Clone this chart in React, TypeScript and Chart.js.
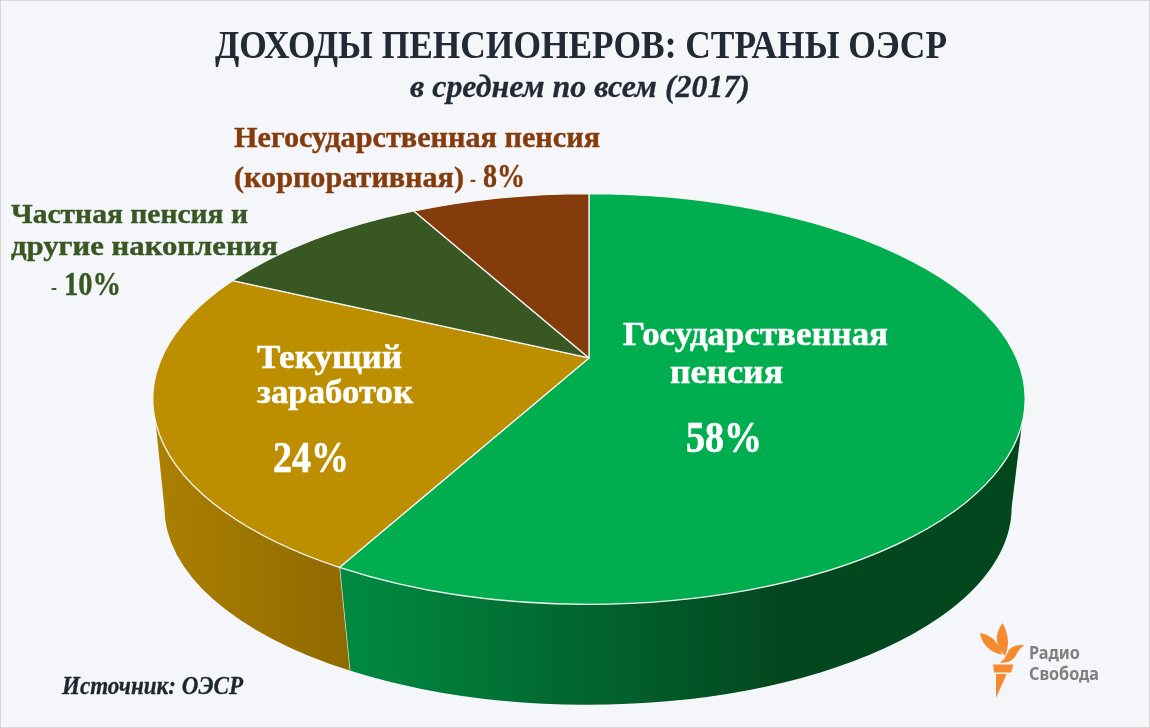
import React, { useEffect, useRef } from "react";
import { Chart, registerables } from "chart.js";

Chart.register(...registerables);

// ---- data ----
const categories = [
  "Государственная пенсия",
  "Текущий заработок",
  "Частная пенсия и другие накопления",
  "Негосударственная пенсия (корпоративная)",
];
const shares = [58, 24, 10, 8];
const sliceColors = ["#00AE50", "#BC8E00", "#385723", "#843C0C"];
const titleText = "ДОХОДЫ ПЕНСИОНЕРОВ: СТРАНЫ ОЭСР";
const subtitleText = "в среднем по всем (2017)";
const sourceText = "Источник: ОЭСР";
const logoLines = ["Радио", "Свобода"];

// ---- style ----
const W = 1150;
const H = 728;
const BG = "#F5F6F9";
const INK = "#222B35";
const SERIF = '"Liberation Serif", serif';
const ASPECT = 436.5 / 205.5; // horizontal stretch of the pie's ellipse
const TILT = 0.2; // perspective shift of the pie's apex
const WALL_DY = 108;
const WALL_RX = 424 / 436.5;
const WALL_RY = 198 / 205.5;
const WALL_PHI_SHIFT = 0.012;
const PHI_R = (7 * Math.PI) / 180;
const PHI_L = (173.6 * Math.PI) / 180;
const wallStops = [
  [[0, "#008A41"], [0.64, "#03471F"], [1, "#03471F"]],
  [[0, "#AC8000"], [1, "#8E6900"]],
];
const wallSpans = [
  [345, 1025],
  [155, 350],
];

function phiOf(angle: number) {
  const t = angle + Math.PI / 2;
  const u = Math.sin(t);
  const v = -Math.cos(t);
  const den = 1 - v * TILT;
  const s = Math.sqrt(1 - TILT * TILT);
  return Math.atan2((v - TILT) / den, (u * s) / den);
}

function text(
  ctx: CanvasRenderingContext2D,
  str: string,
  x: number,
  base: number,
  width: number,
  font: string,
  color: string,
  heavy = 0
) {
  ctx.save();
  ctx.font = font;
  ctx.fillStyle = color;
  ctx.textAlign = "left";
  ctx.textBaseline = "alphabetic";
  const m = ctx.measureText(str).width;
  ctx.translate(x, base);
  ctx.scale(width / m, 1);
  if (heavy > 0) {
    ctx.strokeStyle = color;
    ctx.lineWidth = heavy;
    ctx.lineJoin = "round";
    ctx.strokeText(str, 0, 0);
  }
  ctx.fillText(str, 0, 0);
  ctx.restore();
}

const pie3d = {
  id: "pie3d",
  beforeDraw(chart: any) {
    const ctx = chart.ctx;
    ctx.save();
    ctx.fillStyle = BG;
    ctx.fillRect(0, 0, W, H);
    ctx.strokeStyle = "#D6D7D9";
    ctx.lineWidth = 1;
    ctx.strokeRect(0.5, 0.5, W - 1, H - 1);
    ctx.restore();
  },
  beforeDatasetDraw(chart: any, args: any) {
    const ctx: CanvasRenderingContext2D = chart.ctx;
    const arcs = chart.getDatasetMeta(args.index).data;
    const first = arcs[0];
    const cx = first.x;
    const cy = first.y;
    const ry = first.outerRadius;
    const rx = ry * ASPECT;
    const spans = arcs.map((a: any) => {
      const p1 = phiOf(a.startAngle);
      let p2 = phiOf(a.endAngle);
      while (p2 <= p1) p2 += Math.PI * 2;
      return [p1, p2];
    });
    const apexY = cy - TILT * ry;

    // side walls
    arcs.forEach((arc: any, i: number) => {
      let [p1, p2] = spans[i];
      if (p1 < -Math.PI / 2 - 0.01) {
        p1 += Math.PI * 2;
        p2 += Math.PI * 2;
      }
      const a = Math.max(p1, PHI_R);
      const b = Math.min(p2, PHI_L);
      if (a >= b) return;
      const a2 = a === PHI_R ? 0 : a - WALL_PHI_SHIFT;
      const b2 = b === PHI_L ? Math.PI : b - WALL_PHI_SHIFT;
      const bx = cx - 1;
      const by = cy + WALL_DY;
      const g = ctx.createLinearGradient(wallSpans[i][0], 0, wallSpans[i][1], 0);
      wallStops[i].forEach((s: any) => g.addColorStop(s[0], s[1]));
      ctx.beginPath();
      ctx.ellipse(cx, cy, rx, ry, 0, a, b);
      ctx.ellipse(bx, by, rx * WALL_RX, ry * WALL_RY, 0, b2, a2, true);
      ctx.closePath();
      ctx.fillStyle = g;
      ctx.fill();
      if (b2 !== Math.PI) {
        ctx.beginPath();
        ctx.moveTo(cx + rx * Math.cos(b), cy + ry * Math.sin(b));
        ctx.lineTo(bx + rx * WALL_RX * Math.cos(b2), by + ry * WALL_RY * Math.sin(b2));
        ctx.strokeStyle = "#EDEFE8";
        ctx.lineWidth = 1.3;
        ctx.stroke();
      }
    });

    // top slices
    arcs.forEach((arc: any, i: number) => {
      const [p1, p2] = spans[i];
      ctx.beginPath();
      ctx.moveTo(cx, apexY);
      ctx.ellipse(cx, cy, rx, ry, 0, p1, p2);
      ctx.closePath();
      ctx.fillStyle = arc.options.backgroundColor;
      ctx.fill();
      ctx.strokeStyle = arc.options.borderColor;
      ctx.lineWidth = arc.options.borderWidth;
      ctx.lineJoin = "round";
      ctx.stroke();
    });
    return false;
  },
  afterDraw(chart: any) {
    const ctx: CanvasRenderingContext2D = chart.ctx;
    const B = `bold`;
    text(ctx, titleText, 215, 58, 732, `${B} 41px ${SERIF}`, INK);
    text(ctx, subtitleText, 410, 97, 340, `italic ${B} 32px ${SERIF}`, INK, 0.3);

    const brown = "#843C0C";
    text(ctx, "Негосударственная пенсия", 234, 147, 366, `${B} 30px ${SERIF}`, brown, 0.4);
    text(ctx, "(корпоративная)", 234, 187, 230, `${B} 30px ${SERIF}`, brown, 0.4);
    text(ctx, "-", 470, 187, 6, `${B} 26px ${SERIF}`, brown);
    text(ctx, "8%", 483, 187, 42, `${B} 33px ${SERIF}`, brown, 0.4);

    const moss = "#385723";
    text(ctx, "Частная пенсия и", 11, 223, 237, `${B} 28px ${SERIF}`, moss, 0.4);
    text(ctx, "другие накопления", 11, 255, 267, `${B} 28px ${SERIF}`, moss, 0.4);
    text(ctx, "-", 51, 295, 6, `${B} 24px ${SERIF}`, moss);
    text(ctx, "10%", 64, 295, 57, `${B} 33px ${SERIF}`, moss, 0.4);

    const w = "#FFFFFF";
    text(ctx, "Государственная", 623, 345, 265, `${B} 33px ${SERIF}`, w, 0.5);
    text(ctx, "пенсия", 670, 383, 113, `${B} 33px ${SERIF}`, w, 0.5);
    text(ctx, "58%", 686, 452, 76, `${B} 44px ${SERIF}`, w, 0.6);
    text(ctx, "Текущий", 257, 368, 145, `${B} 33px ${SERIF}`, w, 0.5);
    text(ctx, "заработок", 257, 403, 156, `${B} 33px ${SERIF}`, w, 0.5);
    text(ctx, "24%", 273, 472, 76, `${B} 44px ${SERIF}`, w, 0.6);

    text(ctx, sourceText, 62, 694, 181, `italic ${B} 25px ${SERIF}`, "#1E2630", 0.3);

    // logo
    ctx.save();
    ctx.fillStyle = "#F58A2E";
    const shape = (pts: number[][]) => {
      ctx.beginPath();
      ctx.moveTo(pts[0][0], pts[0][1]);
      for (let i = 1; i < pts.length; i++) {
        const p = pts[i];
        if (p.length === 4) ctx.quadraticCurveTo(p[0], p[1], p[2], p[3]);
        else ctx.lineTo(p[0], p[1]);
      }
      ctx.closePath();
      ctx.fill();
    };
    shape([[993, 664.5], [1013.5, 664.5], [1011, 672.5], [994, 672.5]]);
    shape([[996, 674], [1006.7, 674], [996, 698]]);
    shape([[980, 633], [997, 636, 1002, 655], [983, 650, 980, 633]]);
    shape([[1002.5, 623], [1012, 640, 1005, 656], [990, 640, 1002.5, 623]]);
    shape([[1024, 645], [1010, 644, 1007, 654], [1004, 661, 999, 662.5], [1012, 664, 1016, 655], [1019, 649, 1024, 645]]);
    ctx.restore();
    const grey = "#7F7F7F";
    text(ctx, logoLines[0], 1029, 659, 51, `bold 17px "Noto Sans", sans-serif`, grey);
    text(ctx, logoLines[1], 1029, 680, 70, `bold 17px "Noto Sans", sans-serif`, grey);
  },
};

export default function App() {
  const ref = useRef<HTMLCanvasElement | null>(null);
  useEffect(() => {
    const chart = new Chart(ref.current as HTMLCanvasElement, {
      type: "pie",
      data: {
        labels: categories,
        datasets: [
          {
            data: shares,
            backgroundColor: sliceColors,
            borderColor: "#F3F6F2",
            borderWidth: 1.3,
          },
        ],
      },
      options: {
        responsive: false,
        animation: false,
        devicePixelRatio: 1,
        layout: { padding: { left: 153, right: 125, top: 193, bottom: 123 } },
        plugins: { legend: { display: false }, tooltip: { enabled: false } },
      },
      plugins: [pie3d],
    } as any);
    return () => chart.destroy();
  }, []);
  return (
    <div style={{ position: "absolute", left: 0, top: 0, width: W, height: H }}>
      <canvas ref={ref} width={W} height={H} style={{ display: "block" }} />
    </div>
  );
}
